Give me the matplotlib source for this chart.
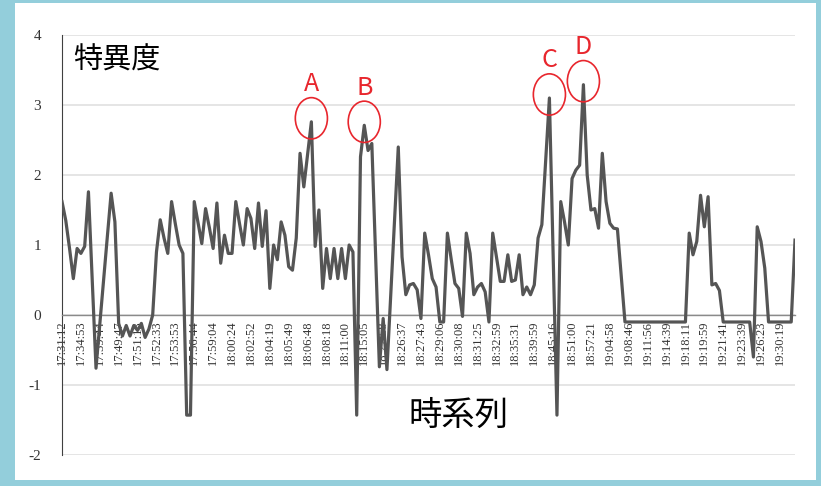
import matplotlib.pyplot as plt
from matplotlib.patches import Ellipse

plt.rcParams["axes.unicode_minus"] = False

# 特異度 per sample
values = [
    1.62, 1.35, 0.95, 0.52, 0.95, 0.88, 0.98, 1.76, 0.50, -0.76,
    -0.13, 0.49, 1.12, 1.74, 1.33, -0.12, -0.30, -0.15, -0.30, -0.15,
    -0.22, -0.12, -0.32, -0.20, 0.00, 0.90, 1.36, 1.10, 0.88, 1.62,
    1.30, 1.00, 0.88, -1.43, -1.43, 1.62, 1.32, 1.02, 1.52, 1.25,
    0.95, 1.60, 0.74, 1.14, 0.88, 0.88, 1.62, 1.30, 1.00, 1.52,
    1.38, 0.95, 1.60, 0.98, 1.49, 0.38, 1.00, 0.79, 1.33, 1.14,
    0.69, 0.64, 1.10, 2.31, 1.83, 2.30, 2.76, 0.98, 1.50, 0.38,
    0.95, 0.52, 0.95, 0.52, 0.95, 0.52, 1.00, 0.90, -1.43, 2.26,
    2.71, 2.35, 2.45, 0.85, -0.74, -0.05, -0.78, 0.28, 1.34, 2.40,
    0.83, 0.29, 0.43, 0.45, 0.36, -0.05, 1.17, 0.86, 0.52, 0.40,
    -0.10, -0.10, 1.17, 0.80, 0.45, 0.38, -0.02, 1.17, 0.88, 0.29,
    0.40, 0.45, 0.33, -0.10, 1.17, 0.83, 0.48, 0.48, 0.86, 0.48,
    0.50, 0.86, 0.29, 0.40, 0.29, 0.43, 1.10, 1.29, 2.20, 3.10,
    0.83, -1.43, 1.62, 1.33, 1.00, 1.95, 2.07, 2.14, 3.29, 2.00,
    1.50, 1.52, 1.24, 2.31, 1.62, 1.31, 1.24, 1.23, 0.57, -0.10,
    -0.10, -0.10, -0.10, -0.10, -0.10, -0.10, -0.10, -0.10, -0.10, -0.10,
    -0.10, -0.10, -0.10, -0.10, -0.10, -0.10, 1.17, 0.86, 1.05, 1.71,
    1.26, 1.69, 0.43, 0.45, 0.35, -0.10, -0.10, -0.10, -0.10, -0.10,
    -0.10, -0.10, -0.10, -0.60, 1.26, 1.05, 0.67, -0.10, -0.10, -0.10,
    -0.10, -0.10, -0.10, -0.10, 1.07,
]

time_labels = [
    "17:31:12", "17:34:53", "17:39:44", "17:49:47", "17:51:13", "17:52:33",
    "17:53:53", "17:56:44", "17:59:04", "18:00:24", "18:02:52", "18:04:19",
    "18:05:49", "18:06:48", "18:08:18", "18:11:00", "18:15:05", "18:22:58",
    "18:26:37", "18:27:43", "18:29:06", "18:30:08", "18:31:25", "18:32:59",
    "18:35:31", "18:39:59", "18:45:16", "18:51:00", "18:57:21", "19:04:58",
    "19:08:46", "19:11:56", "19:14:39", "19:18:11", "19:19:59", "19:21:41",
    "19:23:39", "19:26:23", "19:30:19",
]
label_step = 5

peak_names = ["A", "B", "C", "D"]
peak_index = [66, 80, 129, 138]

red = "#e8262d"

fig = plt.figure(figsize=(8.21, 4.86), dpi=100)
fig.patch.set_facecolor("#93cedb")

# white panel inside the light blue frame
bg = fig.add_axes([15 / 821, 6 / 486, 801 / 821, 477 / 486], zorder=-1)
bg.set_facecolor("white")
bg.set_xticks([])
bg.set_yticks([])
for s in bg.spines.values():
    s.set_visible(False)

ax = fig.add_axes([62 / 821, 31 / 486, 733 / 821, 420 / 486])
ax.patch.set_alpha(0)

x = list(range(len(values)))
ax.plot(x, values, color="#555555", lw=2.3, zorder=3)

ax.set_xlim(0, len(values) - 1)
ax.set_ylim(-2, 4)
ax.set_yticks(range(-2, 5))
ax.grid(axis="y", color="#e3e3e3", lw=1.3)
ax.set_axisbelow(True)

for s in ["top", "right"]:
    ax.spines[s].set_visible(False)
ax.spines["bottom"].set_position(("data", 0))
ax.spines["bottom"].set_color("#8a8a8a")
ax.spines["bottom"].set_linewidth(1.0)
ax.spines["left"].set_color("#404040")
ax.spines["left"].set_linewidth(0.8)

ax.set_xticks(range(0, len(values), label_step))
ax.set_xticklabels(time_labels, rotation=90, fontsize=9,
                   family="Liberation Serif", color="#333333")
ax.tick_params(axis="x", length=0, pad=4)
ax.tick_params(axis="y", length=0, pad=15, labelsize=11, labelcolor="#333333")
for t in ax.get_yticklabels():
    t.set_family("Liberation Serif")

ax.text(0.015, 0.94, "特異度", transform=ax.transAxes, ha="left", va="center",
        fontsize=21, family="Noto Sans CJK JP", color="black")
ax.text(0.5416, 0.095, "時系列", transform=ax.transAxes, ha="center", va="center",
        fontsize=24, family="Noto Sans CJK JP", color="black")

# circled peaks
for name, i in zip(peak_names, peak_index):
    v = values[i]
    ax.add_patch(Ellipse((i, v + 0.05), 8.5, 0.59, facecolor="none",
                         edgecolor=red, lw=1.2, zorder=4))
    ax.text(i, v + 0.54, name, ha="center", va="center", fontsize=18,
            family="Noto Sans CJK JP", color=red, zorder=4)

fig.savefig("out.png", dpi=100)
